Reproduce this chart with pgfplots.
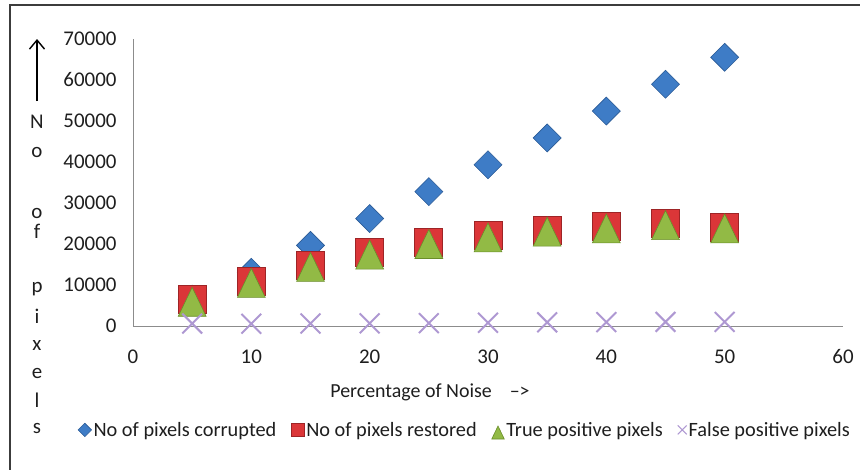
\documentclass[border=0pt]{standalone}
\usepackage{fontspec}
\setmainfont{Carlito}
\usepackage{pgfplots}
\pgfplotsset{compat=1.18}
\usetikzlibrary{arrows.meta}
\definecolor{cblue}{HTML}{3E7CC6}
\definecolor{cblueD}{HTML}{2A5A96}
\definecolor{cred}{HTML}{DB3638}
\definecolor{credD}{HTML}{9E2426}
\definecolor{cgreen}{HTML}{92BA45}
\definecolor{cgreenD}{HTML}{6A8E2A}
\definecolor{cpurple}{HTML}{AE98D2}
\definecolor{axgray}{HTML}{8C8C8C}
\definecolor{txt}{HTML}{1E1E1E}
\definecolor{frame}{HTML}{3C3C3C}
\begin{document}
\begin{tikzpicture}
\useasboundingbox (0bp,0bp) rectangle (860bp,-470bp);
\draw[line width=2bp, color=frame] (10bp,-470bp) -- (10bp,-5bp) -- (860bp,-5bp);
\begin{axis}[
  at={(133bp,-326bp)}, anchor=south west,
  scale only axis, width=710bp, height=287bp,
  xmin=0, xmax=60, ymin=0, ymax=70000,
  xtick={0,10,...,60}, ytick={0,10000,...,70000},
  axis x line*=bottom, axis y line*=left,
  axis line style={draw=axgray, line width=1bp, -},
  major tick length=0pt,
  scaled y ticks=false,
  /pgf/number format/assume math mode=true,
  /pgf/number format/1000 sep={},
  tick label style={font=\fontsize{21}{21}\selectfont, text=txt},
  xticklabel style={yshift=-20bp},
  yticklabel style={xshift=-13bp},
  xlabel={Percentage of Noise\hspace{18bp}–>},
  xlabel style={at={(axis description cs:0.273,-0.23)}, anchor=west,
    font=\fontsize{20}{20}\selectfont, text=txt},
  clip=false,
  legend columns=4,
  legend style={at={(axis description cs:0.4676,-0.362)}, anchor=center,
    draw=none, fill=none, font=\fontsize{20.4}{21}\selectfont, text=txt,
    nodes={inner xsep=2bp}, /tikz/every even column/.append style={column sep=13bp}},
  legend image code/.code={\draw[mark repeat=2,mark phase=2,#1] plot coordinates {(0bp,0bp)(7bp,0bp)(15bp,0bp)};},
]
\addplot[only marks, mark=square*, mark size=9.9bp,
  mark options={rotate=45, fill=cblue, draw=cblueD, line width=0.6bp},
  legend image post style={every mark/.append style={scale=0.48}}]
  coordinates {(5,6554)(10,13107)(15,19661)(20,26214)(25,32768)(30,39322)(35,45875)(40,52429)(45,58982)(50,65536)};
\addlegendentry{No of pixels corrupted}
\addplot[only marks, mark=square*, mark size=14bp,
  mark options={fill=cred, draw=credD, line width=0.8bp},
  legend image post style={every mark/.append style={scale=0.46}}]
  coordinates {(5,6400)(10,11000)(15,14900)(20,17900)(25,20500)(30,22000)(35,23400)(40,24200)(45,25000)(50,24000)};
\addlegendentry{No of pixels restored}
\addplot[only marks, mark=triangle*, mark size=14bp,
  mark options={yshift=-4.8bp, xscale=1.15, yscale=1.38, fill=cgreen, draw=cgreenD, line width=0.6bp},
  legend image post style={every mark/.append style={scale=0.45}}]
  coordinates {(5,5900)(10,10500)(15,14400)(20,17400)(25,20000)(30,21600)(35,23000)(40,23800)(45,24600)(50,23800)};
\addlegendentry{True positive pixels}
\addplot[only marks, mark=x, mark size=14bp,
  mark options={draw=cpurple, line width=2bp},
  legend image post style={every mark/.append style={scale=0.45, line width=1bp}}]
  coordinates {(5,600)(10,550)(15,600)(20,650)(25,700)(30,800)(35,900)(40,950)(45,1000)(50,1000)};
\addlegendentry{False positive pixels}
\end{axis}
\draw[line width=1.4bp, -{Straight Barb[length=9bp, width=15bp]}] (37bp,-101bp) -- (37bp,-39bp);
\foreach \ch/\yy in {N/128,o/157,o/218,f/238,p/292,i/323,x/350,e/378,l/407,s/433}
  \node[anchor=base, inner sep=0pt, font=\fontsize{21}{21}\selectfont, text=txt] at (37bp,-\yy bp) {\ch};
\end{tikzpicture}
\end{document}
